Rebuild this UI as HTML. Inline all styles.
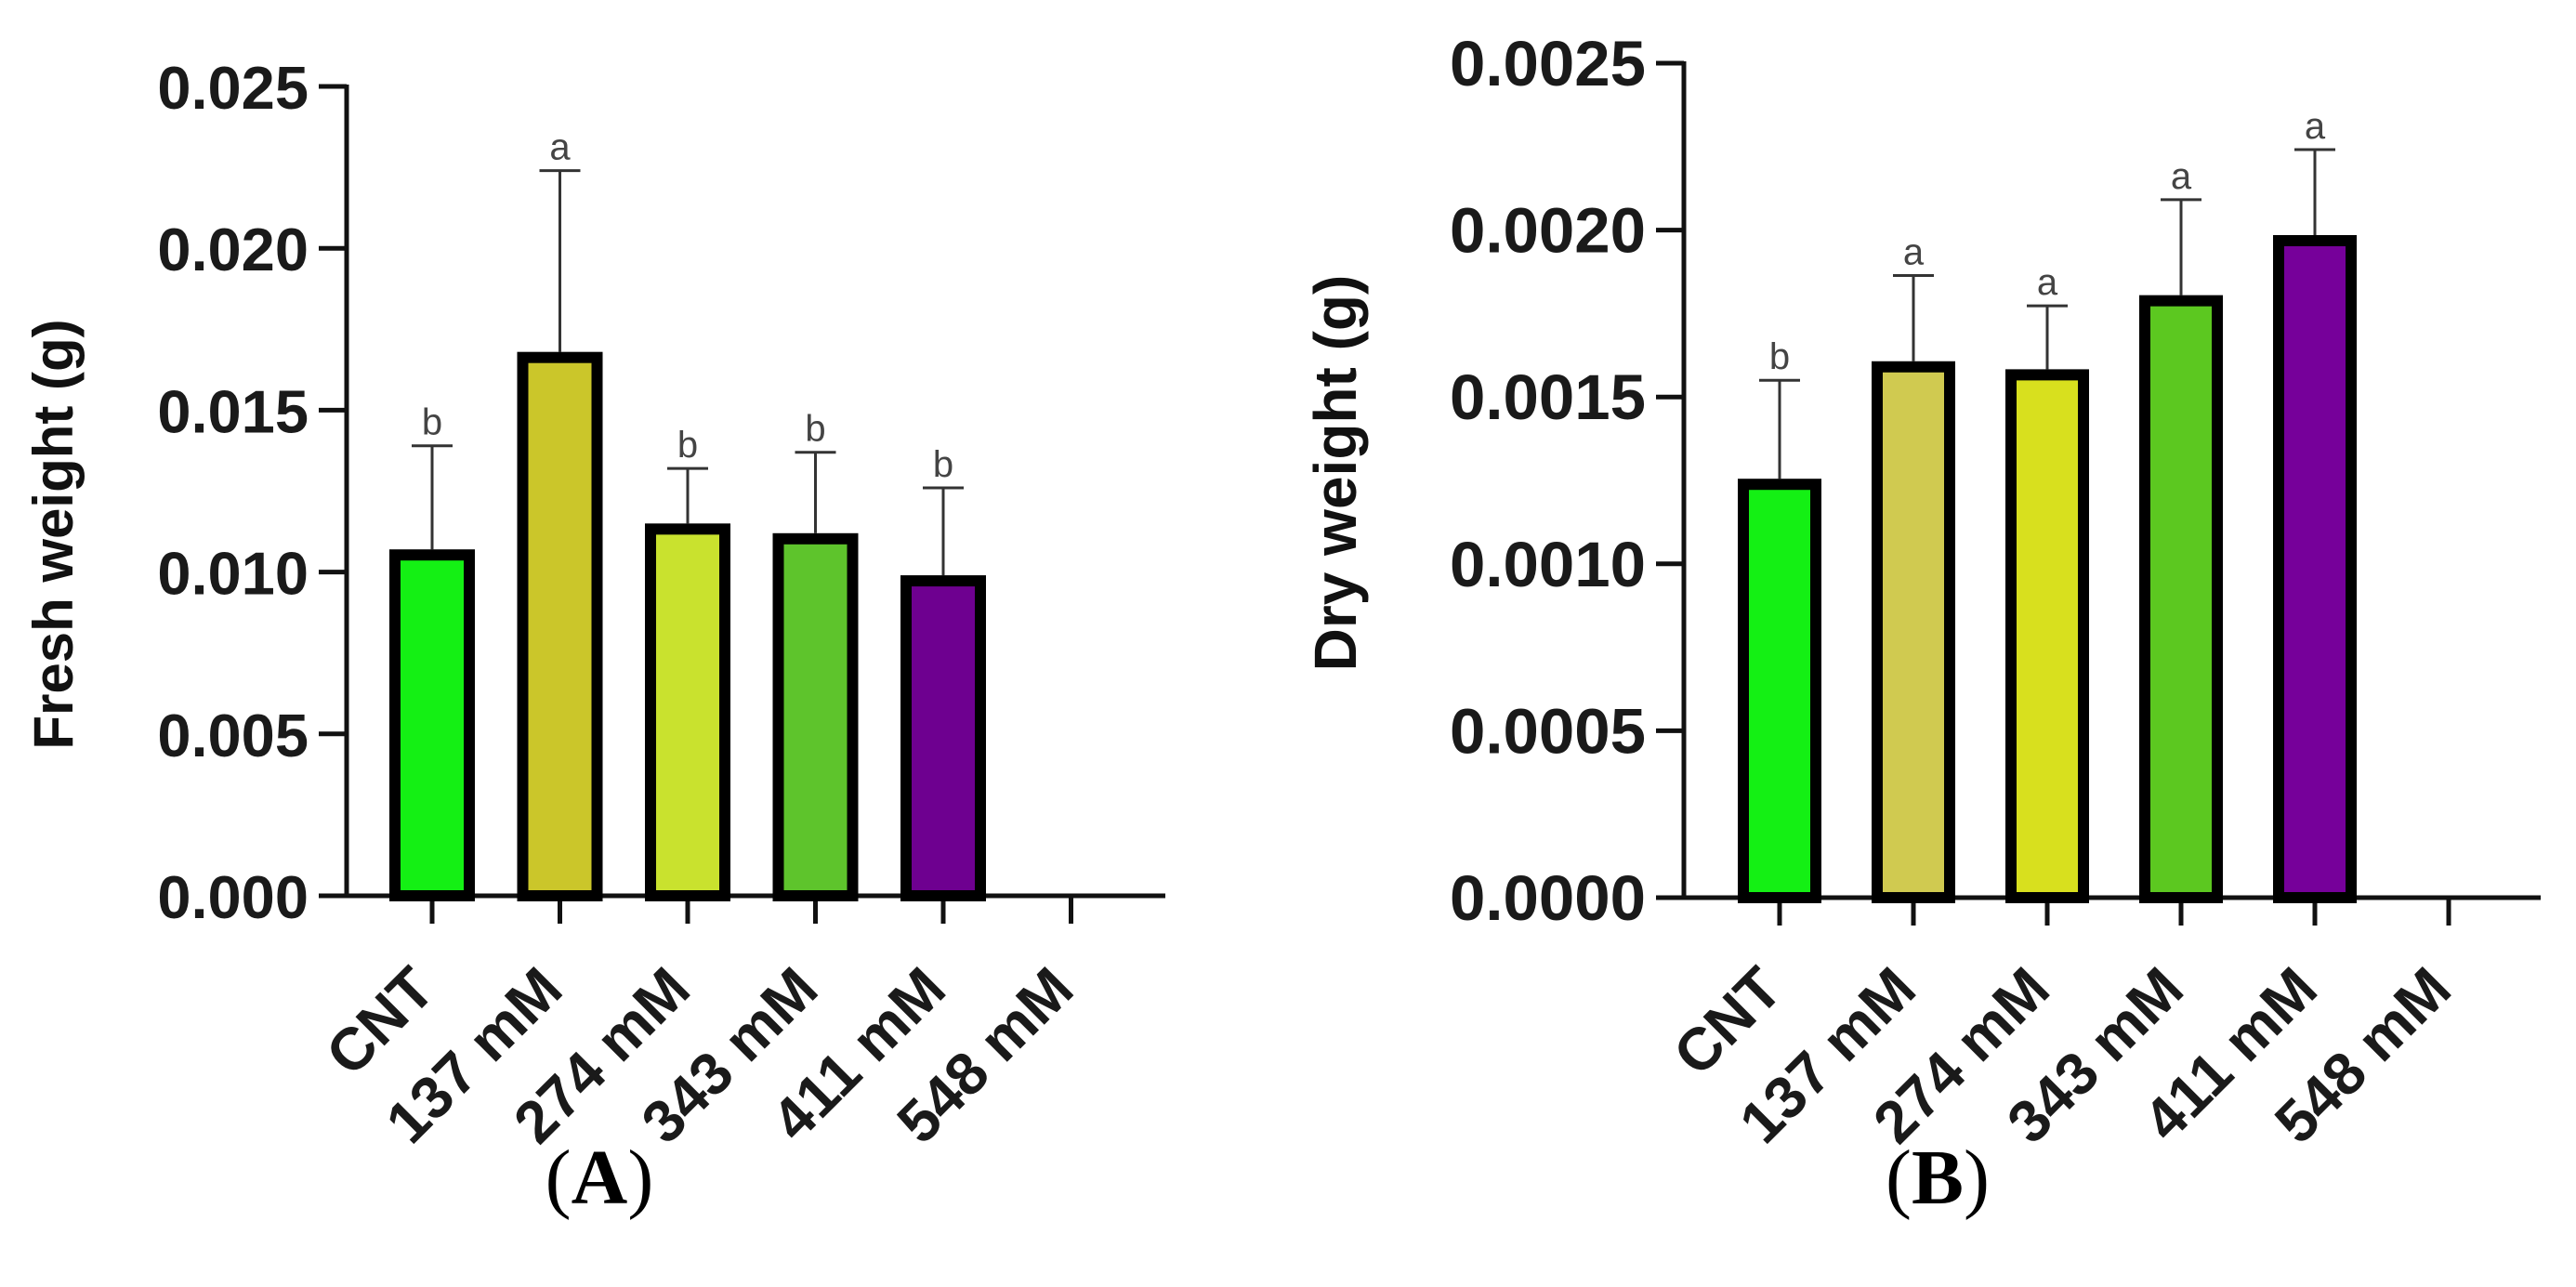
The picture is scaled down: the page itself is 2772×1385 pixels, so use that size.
<!DOCTYPE html>
<html><head><meta charset="utf-8"><style>
html,body{margin:0;padding:0;background:#fff;}
svg{display:block;font-family:"Liberation Sans",Arial,sans-serif;}
</style></head><body>
<svg id="chart" width="2772" height="1385" viewBox="0 0 2772 1385" xmlns="http://www.w3.org/2000/svg">
<text x="645" y="1295" text-anchor="middle" font-family="Liberation Serif, serif" font-size="84">(<tspan font-weight="bold">A</tspan>)</text>
<text x="2085" y="1295" text-anchor="middle" font-family="Liberation Serif, serif" font-size="84">(<tspan font-weight="bold">B</tspan>)</text>
</svg>
<script>
const categories = ["CNT","137 mM","274 mM","343 mM","411 mM","548 mM"];
const freshValues = [0.0107,0.0168,0.0115,0.0112,0.0099,null];
const freshErrors = [0.0139,0.0224,0.0132,0.0137,0.0126,null];
const freshLetters = ["b","a","b","b","b",""];
const freshTicks = ["0.000","0.005","0.010","0.015","0.020","0.025"];
const dryValues = [0.001255,0.001607,0.001583,0.001805,0.001985,null];
const dryErrors = [0.00155,0.001864,0.001773,0.002091,0.002241,null];
const dryLetters = ["b","a","a","a","a",""];
const dryTicks = ["0.0000","0.0005","0.0010","0.0015","0.0020","0.0025"];
const freshColors = ["#14f014","#cbc62a","#c9e22e","#5ec42c","#6e0090"];
const dryColors = ["#14f014","#d0ca50","#d8e01e","#5cc820","#76009a"];

const NS="http://www.w3.org/2000/svg";
const svg=document.getElementById('chart');
function mk(tag,attrs,parent){const e=document.createElementNS(NS,tag);for(const k in attrs)e.setAttribute(k,attrs[k]);(parent||svg).appendChild(e);return e;}

function panel(p){
  const g=mk('g',{});
  
  
  const yMax=p.max;
  const y=v=>p.y0-(v/yMax)*(p.y0-p.yTop);
  const x=i=>p.x0c+i*p.step;
  const ya=mk('line',{x1:p.ax,y1:p.yTop-2,x2:p.ax,y2:p.y0,stroke:'#111','stroke-width':5},g);
  
  
  p.ticks.forEach((t,i)=>{
    const v=yMax*i/(p.ticks.length-1);
    const tl=mk('line',{x1:p.ax-30,y1:y(v),x2:p.ax,y2:y(v),stroke:'#111','stroke-width':5},g);
    
    
    const tx=mk('text',{x:p.ax-41,y:y(v)+24,'text-anchor':'end','font-size':p.tf,'font-weight':'bold',fill:'#1a1a1a'},g);
    tx.textContent=t;
    
    
  });
  const xa=mk('line',{x1:p.ax,y1:p.y0,x2:p.axEnd,y2:p.y0,stroke:'#111','stroke-width':5},g);
  
  
  const yt=mk('text',{x:p.titleX,y:p.titleY,'text-anchor':'middle','font-size':p.titleF,'font-weight':'bold',fill:'#111',transform:`rotate(-90 ${p.titleX} ${p.titleY})`,'dominant-baseline':'middle'},g);
  yt.textContent=p.title;
  
  
  categories.forEach((c,i)=>{
    const cx=x(i);
    const tk=mk('line',{x1:cx,y1:p.y0,x2:cx,y2:p.y0+30,stroke:'#111','stroke-width':5},g);
    
    
    const ax=cx+6, ay=1068;
    const lb=mk('text',{x:ax,y:ay,'text-anchor':'end','font-size':p.xf,'font-weight':'bold',fill:'#1a1a1a',transform:`rotate(-45 ${ax} ${ay})`},g);
    lb.textContent=c;
    
    
    const v=p.values[i];
    if(v===null) return;
    const e=p.errors[i];
    const el=mk('line',{x1:cx,y1:y(v),x2:cx,y2:y(e),stroke:'#333','stroke-width':3},g);
    
    
    const ec=mk('line',{x1:cx-22,y1:y(e),x2:cx+22,y2:y(e),stroke:'#333','stroke-width':3},g);
    
    
    const b=mk('rect',{x:cx-p.bw/2+6,y:y(v)+6,width:p.bw-12,height:p.y0-y(v)-6,fill:p.colors[i],stroke:'#000','stroke-width':12},g);
    
    
    const lt=mk('text',{x:cx,y:y(e)-12,'text-anchor':'middle','font-size':40,fill:'#444'},g);
    lt.textContent=p.letters[i];
    
    
  });
}
panel({name:'fresh-weight-chart',max:0.025,y0:964,yTop:93,ax:373,axEnd:1254,x0c:465,step:137.5,bw:92,
  ticks:freshTicks,values:freshValues,errors:freshErrors,letters:freshLetters,colors:freshColors,
  tf:65,xf:64,title:'Fresh weight (g)',titleX:62,titleY:575,titleF:60});
panel({name:'dry-weight-chart',max:0.0025,y0:966,yTop:68,ax:1812,axEnd:2734,x0c:1915,step:144,bw:90,
  ticks:dryTicks,values:dryValues,errors:dryErrors,letters:dryLetters,colors:dryColors,
  tf:69,xf:64,title:'Dry weight (g)',titleX:1442,titleY:509,titleF:64});
</script>
</body></html>
